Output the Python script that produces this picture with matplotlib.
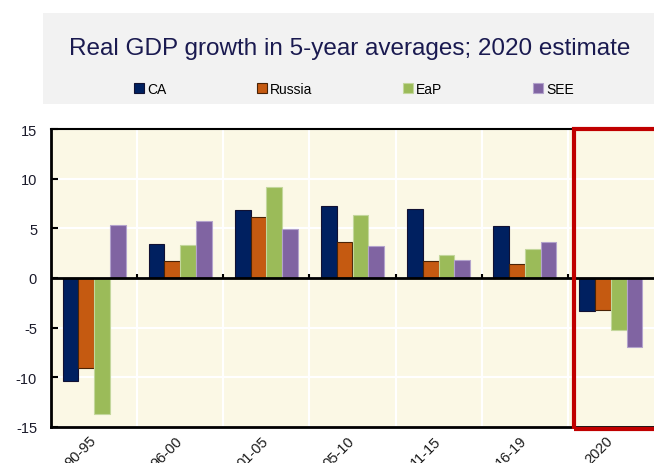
import matplotlib
matplotlib.use('Agg')
import matplotlib.pyplot as plt
import matplotlib.transforms as mtransforms
from matplotlib.patches import Rectangle
from matplotlib.lines import Line2D
import numpy as np

######### Data #########

periods = ['90-95', '96-00', '01-05', '05-10', '11-15', '16-19', '2020']
ca = [-10.4, 3.4, 6.8, 7.2, 6.9, 5.2, -3.3]
russia = [-9.1, 1.7, 6.1, 3.6, 1.7, 1.4, -3.2]
eap = [-13.7, 3.3, 9.2, 6.3, 2.3, 2.9, -5.2]
see = [5.3, 5.7, 4.9, 3.2, 1.8, 3.6, -6.9]

series_names = ['CA', 'Russia', 'EaP', 'SEE']
series_colors = ['#002060', '#C55A11', '#9BBB59', '#8064A2']
edge_colors = ['#111133', '#4a2306', '#c3d79c', '#b3a3cc']

title = 'Real GDP growth in 5-year averages; 2020 estimate'

#########################

plt.rcParams['font.family'] = ['Liberation Sans', 'DejaVu Sans']
plt.rcParams['axes.unicode_minus'] = False

W, H = 654, 464
fig = plt.figure(figsize=(W / 100, H / 100), dpi=100)

# grey header box
fig.patches.append(Rectangle((43 / W, 1 - 105 / H), 1, 91 / H, transform=fig.transFigure,
                             facecolor='#F2F2F2', edgecolor='none', zorder=0))
fig.text(350 / W, 1 - 55 / H, title, ha='center', va='baseline', fontsize=17.5, color='#1a1a50')

ax = fig.add_axes([51 / W, 36 / H, 603 / W, 298 / H])
ax.set_facecolor('#FBF8E5')

x = np.arange(len(periods))
bw = 0.183
all_series = [ca, russia, eap, see]
for k, vals in enumerate(all_series):
    ax.bar(x + (k - 1.5) * bw, vals, bw, color=series_colors[k], edgecolor=edge_colors[k],
           linewidth=0.8, zorder=3)

ax.set_xlim(-0.5, len(periods) - 0.5)
ax.set_ylim(-15, 15)
ax.set_yticks(np.arange(-15, 16, 5))
ax.set_xticks(x)
ax.set_xticks(x[:-1] + 0.5, minor=True)
ax.set_xticklabels(periods, rotation=45, ha='right', va='center', rotation_mode='anchor',
                   fontsize=10.5, color='#1a1a1a')
shift = mtransforms.ScaledTranslation(4 / 100, 0, fig.dpi_scale_trans)
for lab in ax.get_xticklabels():
    lab.set_transform(lab.get_transform() + shift)
ax.tick_params(axis='y', direction='in', length=5, width=1.5, pad=10, labelsize=10.5, labelcolor='#1a1a2a')
ax.tick_params(axis='x', which='both', length=0, pad=8)

ax.grid(True, axis='y', color='white', linewidth=1.5, zorder=1)
ax.grid(True, axis='x', which='minor', color='white', linewidth=1.5, zorder=1)

ax.axhline(0, color='black', linewidth=2, zorder=4)
ax.vlines(x[:-1] + 0.5, 0, 0.45, color='black', linewidth=1.5, zorder=4)

for side in ['left', 'bottom', 'top']:
    ax.spines[side].set_color('black')
ax.spines['left'].set_linewidth(2)
ax.spines['bottom'].set_linewidth(2)
ax.spines['top'].set_linewidth(1.5)
ax.spines['right'].set_visible(False)

# red highlight around the 2020 estimate
ax.add_patch(Rectangle((5.57, -15.25), 1.2, 30.3, fill=False, edgecolor='#C00000',
                       linewidth=3, clip_on=False, zorder=6))

handles = [Line2D([], [], linestyle='none', marker='s', markersize=6.5, markerfacecolor=c,
                  markeredgecolor=e, markeredgewidth=0.8) for c, e in zip(series_colors, edge_colors)]
fig.legend(handles, series_names, loc='center', bbox_to_anchor=(354 / W, 1 - 90 / H), ncol=4,
           frameon=False, handlelength=0.7, handletextpad=0.25, columnspacing=6.5,
           borderpad=0, prop={'size': 10})

fig.savefig('out.png', dpi=100)
